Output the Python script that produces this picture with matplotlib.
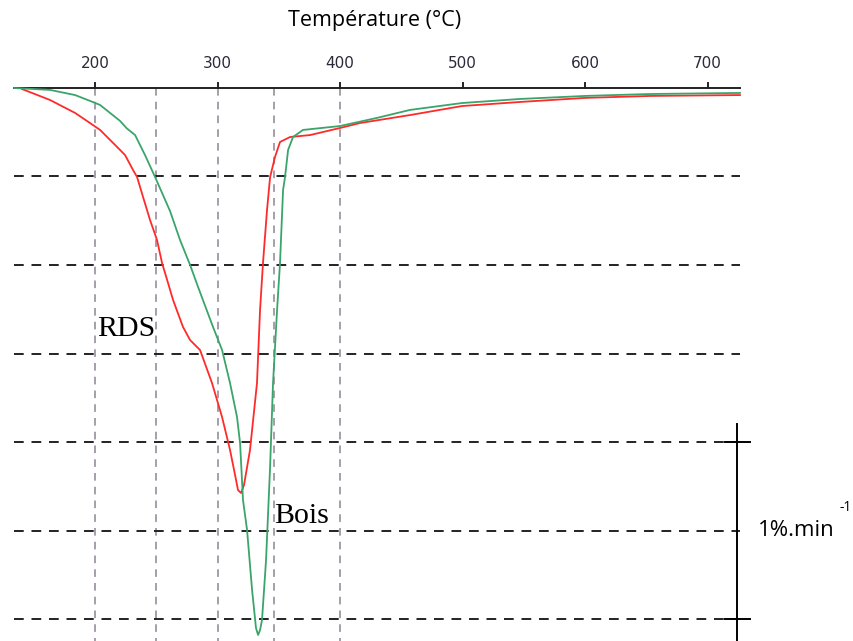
import numpy as np
import matplotlib
matplotlib.use("Agg")
import matplotlib.pyplot as plt

# DTG curves: temperature (°C) vs mass loss rate (%/min)
bois_t = [133.9, 163.3, 183.7, 195.9, 204.1, 220.4, 225.9, 232.7, 236.7, 240.8, 249.0,
          261.2, 269.4, 277.6, 284.1, 296.3, 303.7, 310.2, 315.9, 318.4, 320.8, 324.1,
          328.2, 331.4, 333.1, 334.7, 336.3, 339.6, 342.9, 345.3, 348.6, 351.0,
          353.5, 355.1, 357.6, 361.6, 369.8, 400, 430.2, 457.1, 499.6, 547, 600,
          653.1, 726.5]
bois_y = [0, -0.011, -0.040, -0.073, -0.096, -0.186, -0.228, -0.266, -0.322, -0.379,
          -0.503, -0.695, -0.859, -1.0, -1.124, -1.350, -1.480, -1.667, -1.859, -2.006,
          -2.328, -2.497, -2.836, -3.051, -3.090, -3.062, -3.006, -2.667, -2.141,
          -1.667, -1.254, -0.989, -0.576, -0.503, -0.350, -0.277, -0.237, -0.215,
          -0.169, -0.124, -0.085, -0.062, -0.045, -0.034, -0.028]

rds_t = [140.4, 163.3, 183.7, 195.9, 204.1, 220.4, 224.5, 231.0, 234.3, 239.2, 244.9,
         250.6, 254.7, 259.6, 263.7, 271.8, 277.6, 285.7, 295.5, 303.7, 310.2, 314.3,
         316.7, 319.2, 321.6, 326.5, 332.2, 334.7, 337.1, 340.4, 342.9, 346.9, 351.0,
         359.2, 375.5, 400, 416.3, 457.1, 499.6, 547, 600, 653.1, 726.5]
rds_y = [-0.006, -0.068, -0.141, -0.198, -0.237, -0.350, -0.379, -0.463, -0.503,
         -0.616, -0.746, -0.859, -0.989, -1.102, -1.198, -1.350, -1.424, -1.480,
         -1.667, -1.859, -2.045, -2.186, -2.271, -2.288, -2.243, -2.045, -1.667,
         -1.254, -0.989, -0.689, -0.503, -0.390, -0.305, -0.277, -0.266, -0.226,
         -0.198, -0.153, -0.102, -0.079, -0.056, -0.045, -0.040]

x_ticks = [200, 300, 400, 500, 600, 700]
v_grid = [200, 250, 300, 346, 400]
h_grid = [-0.5, -1.0, -1.5, -2.0, -2.5, -3.0]
scale_ends = [-2.0, -3.0]   # 1 %.min-1

t_min, t_max = 134, 726.5

fig = plt.figure(figsize=(8.54, 6.41), dpi=100)
ax = fig.add_axes([0, 0, 1, 1])
ax.set_xlim(122.4, 819.6)
ax.set_ylim(-3.124, 0.497)
ax.axis("off")

# grid
for t in v_grid:
    ax.plot([t, t], [0, -3.124], color="#8e8494", lw=1.1, dashes=(5, 4))
for y in h_grid:
    ax.plot([t_min, t_max], [y, y], color="#222222", lw=1.4, dashes=(5, 4))

# top temperature axis
ax.plot([t_min, t_max], [0, 0], color="#222222", lw=1.4)
for t in x_ticks:
    ax.plot([t, t], [0, 0.03], color="#222222", lw=1.4)
    ax.text(t, 0.138, str(t), ha="center", va="center", fontsize=11,
            color="#2a2a3a", family="DejaVu Sans")
ax.text(428, 0.379, "Température (°C)", ha="center", va="center",
        fontsize=15.5, family="Open Sans", color="black")

# curves
ax.plot(rds_t, rds_y, color="#ff2a2a", lw=1.3)
ax.plot(bois_t, bois_y, color="#3aa56a", lw=1.3)

ax.text(202, -1.36, "RDS", ha="left", va="center", fontsize=21.5,
        family="Liberation Serif")
ax.text(346, -2.42, "Bois", ha="left", va="center", fontsize=21.5,
        family="Liberation Serif")

# scale bar
ax.plot([724, 724], [-1.9, -3.124], color="black", lw=1.4)
for y in scale_ends:
    ax.plot([714, 735], [y, y], color="black", lw=1.4)
ax.text(741, -2.5, "1%.min", ha="left", va="center", fontsize=16,
        family="Open Sans")
ax.text(808, -2.37, "-1", ha="left", va="center", fontsize=10,
        family="Open Sans")

fig.savefig("out.png", dpi=100)
